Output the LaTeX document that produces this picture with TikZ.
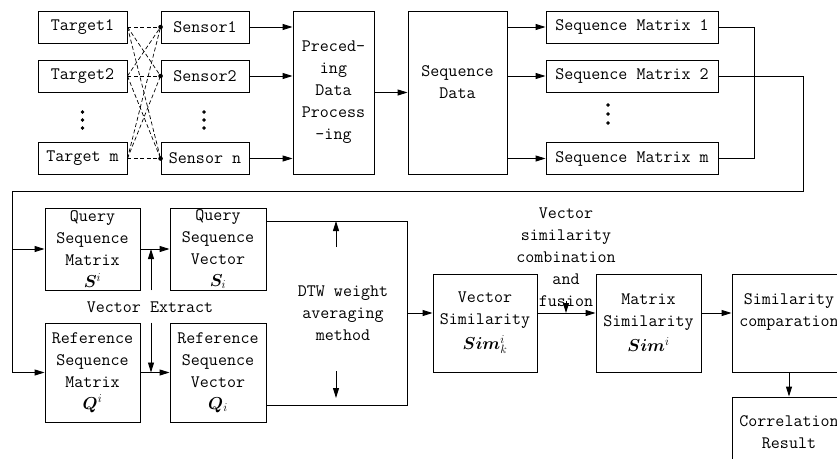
\documentclass[tikz,border=0pt]{standalone}
\usepackage{fontspec}
\usepackage{bm}
\usetikzlibrary{arrows.meta}

\newcommand{\flowfont}{\fontsize{17.5}{22}\selectfont\ttfamily}

\tikzset{
  blk/.style={draw, line width=0.9pt, inner sep=0pt, align=center, font=\flowfont},
  txt/.style={inner sep=0pt, align=center, font=\flowfont},
  smallbox/.style={blk, minimum width=89pt, minimum height=32pt},
  matbox/.style={blk, minimum width=172pt, minimum height=32pt},
  tallbox/.style={blk, minimum height=163pt},
  seqbox/.style={blk, minimum width=95pt},
  simbox/.style={blk, minimum width=104pt, minimum height=98pt},
  flow/.style={line width=0.9pt, -{Triangle[length=10pt,width=6pt]}},
  wire/.style={line width=0.9pt},
  link/.style={line width=0.7pt, dash pattern=on 4pt off 2.5pt},
}

\begin{document}
\begin{tikzpicture}[x=1pt,y=-1pt]
  \useasboundingbox (0,0) rectangle (837,458);
  \clip (0,0) rectangle (837,458);

  % targets and sensors
  \node[smallbox] (t1) at (82.5,27) {Target1};
  \node[smallbox] (t2) at (82.5,76) {Target2};
  \node[smallbox] (tm) at (82.5,158.5) {Target m};

  \node[smallbox, minimum width=88pt] (s1) at (205,27) {Sensor1};
  \node[smallbox, minimum width=88pt] (s2) at (205,76) {Sensor2};
  \node[smallbox, minimum width=88pt] (sn) at (205,158.5) {Sensor n};

  % the "more of them" dots
  \foreach \y in {112,120,128} {
    \filldraw (82.5,\y) circle (1.5pt);
    \filldraw (204,\y) circle (1.5pt);
  }

  % every target is seen by every sensor
  \foreach \t in {t1,t2,tm}
    \foreach \s in {s1,s2,sn}
      \draw[link] (\t.east) -- (\s.west);
  \foreach \s in {s1,s2,sn}
    \filldraw (\s.west) circle (2pt);

  % preprocessing and sequence data
  \node[tallbox, minimum width=81pt] (prec) at (333.5,92.5)
    {Preced-\\ing\\Data\\Process\\-ing};
  \node[tallbox, minimum width=99pt] (seqd) at (457.5,92.5) {};
  \node[txt] (seqdtxt) at (457.5,82) {Sequence\\Data};

  \foreach \s in {s1,s2,sn}
    \draw[flow] (\s.east) -- (\s.east -| prec.west);
  \draw[flow] (prec.east) -- (seqd.west);

  % sequence matrices
  \node[matbox] (m1) at (632,27) {Sequence Matrix 1};
  \node[matbox] (m2) at (632,76) {Sequence Matrix 2};
  \node[matbox] (mm) at (632,158.5) {Sequence Matrix m};
  \foreach \y in {105,114,123}
    \filldraw (608,\y) circle (1.5pt);

  \foreach \m in {m1,m2,mm}
    \draw[flow] (seqd.east |- \m.west) -- (\m.west);

  \coordinate (join) at (754,0);
  \draw[wire] (m1.east) -| (join |- mm.east) -- (mm.east);

  % query / reference matrices and vectors
  \node[seqbox, minimum height=82pt] (qmat) at (92.5,249)
    {Query\\Sequence\\Matrix\\$\bm{S}^{i}$};
  \node[seqbox, minimum width=96pt, minimum height=82pt] (qvec) at (218,249)
    {Query\\Sequence\\Vector\\$\bm{S}_{i}$};
  \node[seqbox, minimum height=99pt] (rmat) at (92.5,372.5)
    {Reference\\Sequence\\Matrix\\$\bm{Q}^{i}$};
  \node[seqbox, minimum width=96pt, minimum height=99pt] (rvec) at (218,372.5)
    {Reference\\Sequence\\Vector\\$\bm{Q}_{i}$};
  \node[txt] (vext) at (150,307) {Vector Extract};

  % feed line from sequence matrix 2
  \coordinate (turn) at (803,191);
  \coordinate (feed) at (12,191);
  \draw[wire] (m2.east) -| (turn) -- (feed) -- (feed |- rmat.west);
  \draw[flow] (feed |- qmat.west) -- (qmat.west);
  \draw[flow] (feed |- rmat.west) -- (rmat.west);

  \draw[flow] (qmat.east) -- (qvec.west);
  \draw[flow] (rmat.east) -- (rvec.west);
  \coordinate (vx) at (151,0);
  \draw[flow] (vx |- qmat.south) -- (vx |- qmat.east);
  \draw[flow] (vx |- rmat.north) -- (vx |- rmat.east);

  % DTW weighting bracket
  \coordinate (dtwne) at (407,221);
  \coordinate (dtwse) at (407,405);
  \draw[wire] (qvec.east |- dtwne) -- (dtwne) -- (dtwse) -- (rvec.east |- dtwse);
  \node[txt] (dtw) at (343,313) {DTW weight\\averaging\\method};
  \coordinate (up0) at (336,247);
  \coordinate (dn0) at (336,371);
  \draw[flow] (up0) -- (up0 |- dtwne);
  \draw[flow] (dn0) -- ++(0,27);

  % similarity chain
  \coordinate (lane) at (0,313);
  \node[simbox] (vsim) at (485,323) {Vector\\Similarity\\[3pt]$\bm{Sim}_{k}^{i}$};
  \node[simbox, minimum width=105pt] (msim) at (648.5,323) {Matrix\\Similarity\\[3pt]$\bm{Sim}^{i}$};
  \node[simbox, minimum width=114pt] (scmp) at (789,323) {};
  \node[txt] (scmptxt) at (789,312) {Similarity\\comparation};
  \node[blk, minimum width=114pt, minimum height=70pt] (cres) at (789,432)
    {Correlation\\Result};
  \node[txt] (fusion) at (566,257) {Vector\\similarity\\combination\\and\\fusion};
  \coordinate (fuse) at (566,301);

  \draw[flow] (dtwse |- lane) -- (vsim.west |- lane);
  \draw[flow] (vsim.east |- lane) -- (msim.west |- lane);
  \draw[flow] (fuse) -- (fuse |- lane);
  \draw[flow] (msim.east |- lane) -- (scmp.west |- lane);
  \draw[flow] (scmp.south) -- (cres.north);
\end{tikzpicture}
\end{document}
